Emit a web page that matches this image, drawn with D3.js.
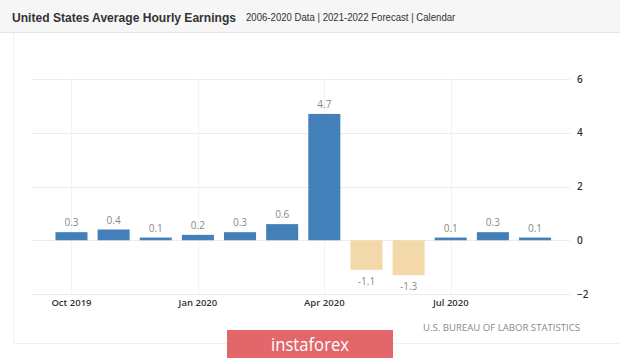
<!DOCTYPE html>
<html>
<head>
<meta charset="utf-8">
<script src="https://cdn.jsdelivr.net/npm/d3@7"></script>
<style>
html,body{margin:0;padding:0;background:#fff;}
svg{display:block;}
</style>
</head>
<body>
<svg id="chart" width="620" height="359"></svg>
<script>
const categories = ["Oct 2019","Nov 2019","Dec 2019","Jan 2020","Feb 2020","Mar 2020","Apr 2020","May 2020","Jun 2020","Jul 2020","Aug 2020","Sep 2020"];
const values = [0.3, 0.4, 0.1, 0.2, 0.3, 0.6, 4.7, -1.1, -1.3, 0.1, 0.3, 0.1];
const yTicks = [-2, 0, 2, 4, 6];
const xTickLabels = ["Oct 2019", "Jan 2020", "Apr 2020", "Jul 2020"];
const titleText = "United States Average Hourly Earnings";
const subtitleText = "2006-2020 Data | 2021-2022 Forecast | Calendar";
const sourceText = "U.S. BUREAU OF LABOR STATISTICS";
const badgeText = "instaforex";

const svg = d3.select("#chart");

// header band
svg.append("rect").attr("x",0).attr("y",0).attr("width",620).attr("height",32).attr("fill","#f6f6f6");
svg.append("line").attr("x1",0).attr("x2",620).attr("y1",32.5).attr("y2",32.5).attr("stroke","#e4e4e4");
// faint panel border
svg.append("path").attr("d","M13.5,33 V343.5 H620").attr("fill","none").attr("stroke","#f0f0f0");

svg.append("text").attr("transform","translate(12,21.5) scale(1,1.12)").text(titleText)
  .attr("font-family","'Liberation Sans', Arial, sans-serif").attr("font-weight","bold")
  .attr("font-size",12.1).attr("fill","#333");
svg.append("text").attr("transform","translate(246,20.5) scale(1,1.12)").text(subtitleText)
  .attr("font-family","'Liberation Sans', Arial, sans-serif")
  .attr("font-size",9.6).attr("fill","#333");

const x = d3.scaleBand().domain(categories).range([50.4, 556.1]).paddingInner(0.24).paddingOuter(0.12);
const y = d3.scaleLinear().domain([-2, 6]).range([294, 79]);

const gridLeft = 32, gridRight = 570;
// horizontal grid
svg.append("g").selectAll("line").data(yTicks).join("line")
  .attr("x1",gridLeft).attr("x2",gridRight)
  .attr("y1",d=>Math.round(y(d))+0.5).attr("y2",d=>Math.round(y(d))+0.5)
  .attr("stroke","#ececec");
// vertical grid
svg.append("g").selectAll("line").data(xTickLabels).join("line")
  .attr("x1",d=>Math.round(x(d)+x.bandwidth()/2)+0.5).attr("x2",d=>Math.round(x(d)+x.bandwidth()/2)+0.5)
  .attr("y1",y(6)).attr("y2",y(-2))
  .attr("stroke","#f2f2f2");

// bars
svg.append("g").selectAll("rect").data(values).join("rect")
  .attr("x",(d,i)=>x(categories[i]))
  .attr("width",x.bandwidth())
  .attr("y",d=>y(Math.max(0,d)))
  .attr("height",d=>Math.abs(y(d)-y(0)))
  .attr("fill",d=>d>=0 ? "#437fb9" : "#f3d9a9");

// value labels
svg.append("g").selectAll("text").data(values).join("text")
  .attr("x",(d,i)=>x(categories[i])+x.bandwidth()/2)
  .attr("y",d=> d>=0 ? y(d)-6 : y(d)+15)
  .attr("text-anchor","middle")
  .attr("font-family","'Open Sans', sans-serif").attr("font-size",10).attr("fill","#8a8a8a")
  .text(d=> d.toFixed(1));

// x axis
const xAxis = d3.axisBottom(x).tickValues(xTickLabels).tickSize(0).tickPadding(0);
const gx = svg.append("g").attr("transform","translate(0,306)").call(xAxis);
gx.select(".domain").remove();
gx.selectAll("text").attr("dy",0).attr("font-family","'Open Sans', sans-serif").attr("font-size",9.5)
  .attr("font-weight",600).attr("fill","#333");

// y axis
const yAxis = d3.axisRight(y).tickValues(yTicks).tickSize(0).tickPadding(0).tickFormat(d3.format("d"));
const gy = svg.append("g").attr("transform","translate(577,0)").call(yAxis);
gy.select(".domain").remove();
gy.selectAll("text").attr("font-family","'Open Sans', sans-serif").attr("font-size",10)
  .attr("font-weight",600).attr("fill","#333");

// source
svg.append("text").attr("x",580).attr("y",331).attr("text-anchor","end").text(sourceText)
  .attr("font-family","'Open Sans', sans-serif").attr("font-size",9).attr("fill","#8a8a8a")
  .attr("textLength",157).attr("lengthAdjust","spacingAndGlyphs");

// badge
svg.append("rect").attr("x",227).attr("y",330).attr("width",166).attr("height",28).attr("fill","#e2666a");
svg.append("text").attr("x",310).attr("y",351).attr("text-anchor","middle").text(badgeText)
  .attr("font-family","'Open Sans', sans-serif").attr("font-size",18).attr("fill","#fff")
  .attr("textLength",78).attr("lengthAdjust","spacingAndGlyphs");
</script>
</body>
</html>
